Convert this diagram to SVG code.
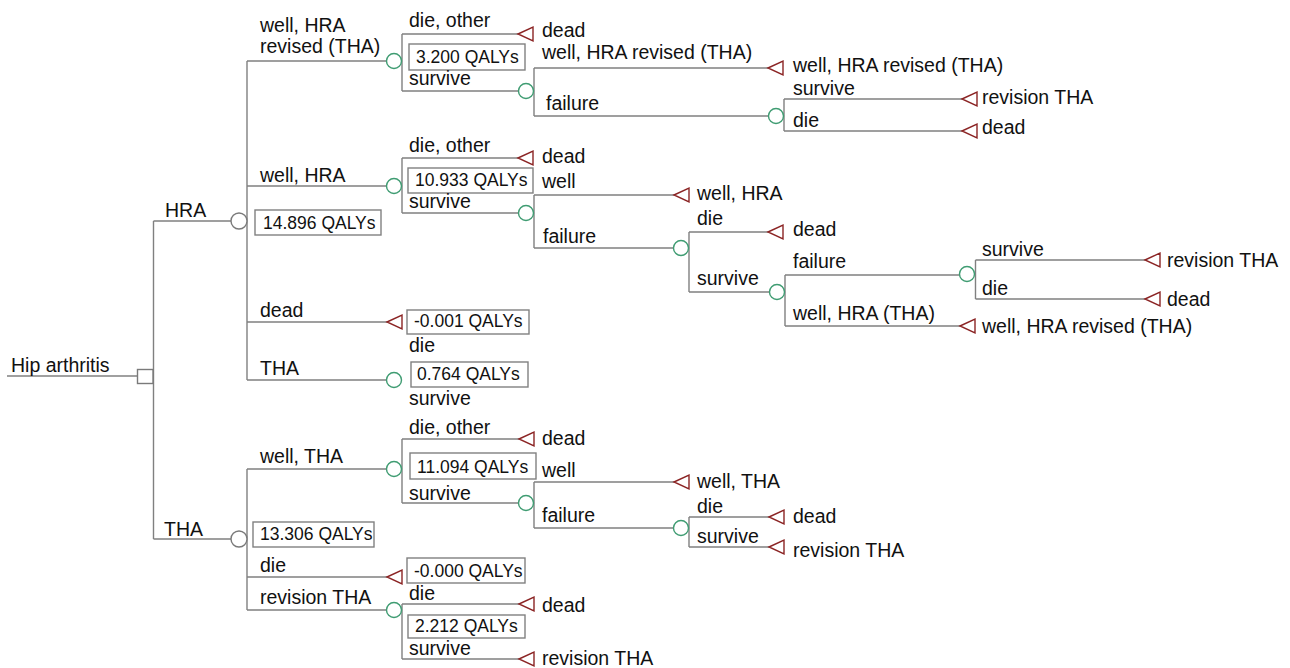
<svg xmlns="http://www.w3.org/2000/svg" width="1290" height="668" viewBox="0 0 1290 668">
<style>
.ln{fill:none;stroke:#808080;stroke-width:1.4}
.ch{fill:#fff;stroke:#3f9c72;stroke-width:1.4}
.chg{fill:#fff;stroke:#7a7a7a;stroke-width:1.4}
.dec{fill:#fff;stroke:#7a7a7a;stroke-width:1.4}
.tm{fill:#fff;stroke:#8b2424;stroke-width:1.4}
.bx{fill:#fff;stroke:#808080;stroke-width:1.4}
text{font-family:"Liberation Sans",Arial,sans-serif;fill:#111}
.lb{font-size:19.5px}
.vl{font-size:17.5px}
</style>
<defs>
<path id="tri" d="M0,0 L15,-7 L15,7 Z"/>
</defs>
<rect width="1290" height="668" fill="#fff"/>
<g id="connectors" class="ln">
<path d="M7,376 H137"/>
<path d="M153.5,221 V539 M153.5,221 H231.5 M153.5,539 H231.5"/>
<path d="M247,61 V380 M247,61 H386.5 M247,186 H386.5 M247,322 H387 M247,380 H386.5"/>
<path d="M402,34 V91 M402,34 H518 M402,91 H518.5"/>
<path d="M534,68 V116 M534,68 H768 M534,116 H768.5"/>
<path d="M784,99 V131 M784,99 H962 M784,131 H962"/>
<path d="M402,158 V213 M402,158 H518 M402,213 H518.5"/>
<path d="M534,195 V248 M534,195 H674 M534,248 H673.5"/>
<path d="M689,232 V292 M689,232 H768 M689,292 H769.5"/>
<path d="M785,275 V326 M785,275 H959.5 M785,326 H960"/>
<path d="M975.5,260 V299 M975.5,260 H1145 M975.5,299 H1145"/>
<path d="M247,469 V610 M247,469 H386.5 M247,577 H387 M247,610 H386.5"/>
<path d="M402,439 V503 M402,439 H519 M402,503 H518.5"/>
<path d="M534,482 V528 M534,482 H674 M534,528 H673.5"/>
<path d="M689,517 V547 M689,517 H769 M689,547 H769"/>
<path d="M402,604 V659 M402,604 H519 M402,659 H519"/>
</g>
<g id="n-root"><rect class="dec" x="137.5" y="369.5" width="15.5" height="14"/><text class="lb" x="11" y="372">Hip arthritis</text></g>
<g id="n-hra"><circle class="chg" cx="239" cy="221" r="8"/><text class="lb" x="165" y="217">HRA</text><rect class="bx" x="255" y="210" width="126" height="25"/><text class="vl" x="263" y="229">14.896 QALYs</text></g>
<g id="n-tha"><circle class="chg" cx="239" cy="539" r="8"/><text class="lb" x="164" y="536">THA</text><rect class="bx" x="253" y="522" width="121" height="25"/><text class="vl" x="260" y="540">13.306 QALYs</text></g>

<g id="n-a"><circle class="ch" cx="394" cy="61" r="7.5"/><text class="lb" x="260" y="32">well, HRA</text><text class="lb" x="260" y="53">revised (THA)</text><rect class="bx" x="409" y="44" width="116" height="26"/><text class="vl" x="416" y="63">3.200 QALYs</text></g>
<g id="t-a1"><use href="#tri" class="tm" x="518" y="34"/><text class="lb" x="409" y="27">die, other</text><text class="lb" x="542" y="37">dead</text></g>
<g id="n-a2"><circle class="ch" cx="526" cy="91" r="7.5"/><text class="lb" x="409" y="85">survive</text></g>
<g id="t-a2"><use href="#tri" class="tm" x="768" y="68"/><text class="lb" x="542" y="59">well, HRA revised (THA)</text><text class="lb" x="793" y="72">well, HRA revised (THA)</text></g>
<g id="n-a3"><circle class="ch" cx="776" cy="116" r="7.5"/><text class="lb" x="546" y="110">failure</text></g>
<g id="t-a3"><use href="#tri" class="tm" x="962" y="99"/><text class="lb" x="793" y="95">survive</text><text class="lb" x="982" y="104">revision THA</text></g>
<g id="t-a4"><use href="#tri" class="tm" x="962" y="131"/><text class="lb" x="793" y="127">die</text><text class="lb" x="982" y="134">dead</text></g>

<g id="n-b"><circle class="ch" cx="394" cy="186" r="7.5"/><text class="lb" x="260" y="182">well, HRA</text><rect class="bx" x="408" y="168" width="125" height="25"/><text class="vl" x="415" y="186">10.933 QALYs</text></g>
<g id="t-b1"><use href="#tri" class="tm" x="518" y="158"/><text class="lb" x="409" y="152">die, other</text><text class="lb" x="542" y="163">dead</text></g>
<g id="n-b2"><circle class="ch" cx="526" cy="213" r="7.5"/><text class="lb" x="409" y="208">survive</text></g>
<g id="t-b2"><use href="#tri" class="tm" x="674" y="195"/><text class="lb" x="542" y="188">well</text><text class="lb" x="697" y="200">well, HRA</text></g>
<g id="n-b3"><circle class="ch" cx="681" cy="248" r="7.5"/><text class="lb" x="543" y="243">failure</text></g>
<g id="t-b3"><use href="#tri" class="tm" x="768" y="232"/><text class="lb" x="697" y="225">die</text><text class="lb" x="793" y="236">dead</text></g>
<g id="n-b4"><circle class="ch" cx="777" cy="292" r="7.5"/><text class="lb" x="697" y="285">survive</text></g>
<g id="n-b5"><circle class="ch" cx="967" cy="274" r="7.5"/><text class="lb" x="793" y="268">failure</text></g>
<g id="t-b5"><use href="#tri" class="tm" x="1145" y="260"/><text class="lb" x="982" y="256">survive</text><text class="lb" x="1167" y="267">revision THA</text></g>
<g id="t-b6"><use href="#tri" class="tm" x="1145" y="299"/><text class="lb" x="982" y="295">die</text><text class="lb" x="1167" y="306">dead</text></g>
<g id="t-b7"><use href="#tri" class="tm" x="960" y="326"/><text class="lb" x="793" y="320">well, HRA (THA)</text><text class="lb" x="982" y="333">well, HRA revised (THA)</text></g>

<g id="t-hdead"><use href="#tri" class="tm" x="387" y="322"/><text class="lb" x="260" y="317">dead</text><rect class="bx" x="407" y="310" width="122" height="24"/><text class="vl" x="414" y="327">-0.001 QALYs</text><text class="lb" x="409" y="352">die</text></g>
<g id="n-htha"><circle class="ch" cx="394" cy="380" r="7.5"/><text class="lb" x="260" y="375">THA</text><rect class="bx" x="411" y="362" width="117" height="25"/><text class="vl" x="417" y="380">0.764 QALYs</text><text class="lb" x="409" y="405">survive</text></g>

<g id="n-c"><circle class="ch" cx="394" cy="469" r="7.5"/><text class="lb" x="260" y="463">well, THA</text><rect class="bx" x="410" y="453" width="126" height="26"/><text class="vl" x="417" y="473">11.094 QALYs</text></g>
<g id="t-c1"><use href="#tri" class="tm" x="519" y="439"/><text class="lb" x="409" y="434">die, other</text><text class="lb" x="542" y="445">dead</text></g>
<g id="n-c2"><circle class="ch" cx="526" cy="503" r="7.5"/><text class="lb" x="409" y="500">survive</text></g>
<g id="t-c2"><use href="#tri" class="tm" x="674" y="482"/><text class="lb" x="542" y="477">well</text><text class="lb" x="697" y="488">well, THA</text></g>
<g id="n-c3"><circle class="ch" cx="681" cy="528" r="7.5"/><text class="lb" x="542" y="522">failure</text></g>
<g id="t-c3"><use href="#tri" class="tm" x="769" y="517"/><text class="lb" x="697" y="513">die</text><text class="lb" x="793" y="523">dead</text></g>
<g id="t-c4"><use href="#tri" class="tm" x="769" y="547"/><text class="lb" x="697" y="543">survive</text><text class="lb" x="793" y="557">revision THA</text></g>

<g id="t-tdie"><use href="#tri" class="tm" x="387" y="577"/><text class="lb" x="260" y="572">die</text><rect class="bx" x="407" y="558" width="118" height="25"/><text class="vl" x="414" y="577">-0.000 QALYs</text></g>
<g id="n-d"><circle class="ch" cx="394" cy="610" r="7.5"/><text class="lb" x="260" y="604">revision THA</text><rect class="bx" x="408" y="615" width="117" height="23"/><text class="vl" x="415" y="632">2.212 QALYs</text></g>
<g id="t-d1"><use href="#tri" class="tm" x="519" y="604"/><text class="lb" x="409" y="600">die</text><text class="lb" x="542" y="612">dead</text></g>
<g id="t-d2"><use href="#tri" class="tm" x="519" y="659"/><text class="lb" x="409" y="655">survive</text><text class="lb" x="542" y="665">revision THA</text></g>
</svg>
